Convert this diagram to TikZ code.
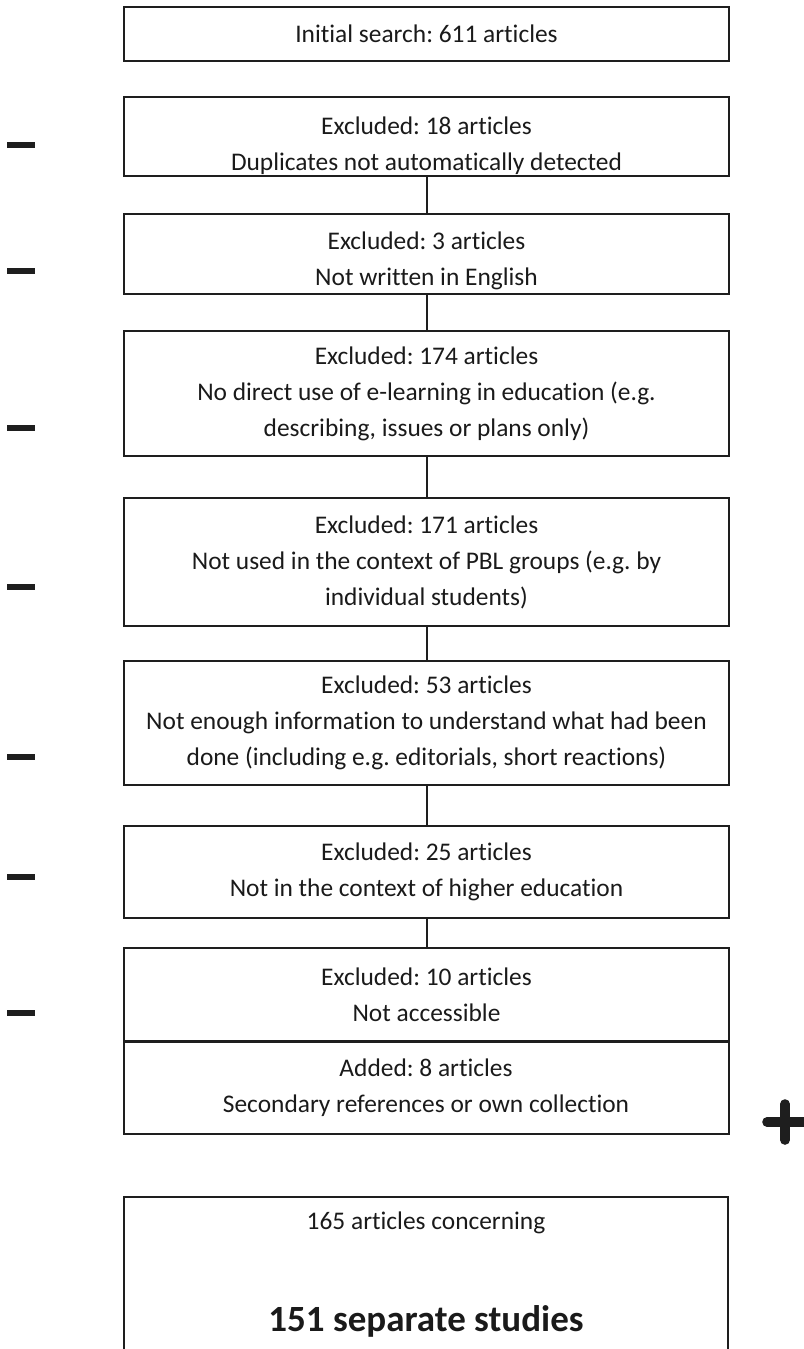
\documentclass[tikz,border=0pt]{standalone}
\usepackage{fontspec}
\setmainfont{Carlito}[Ligatures=NoCommon]
\usepackage{xcolor}
\definecolor{boxline}{HTML}{1E1E1E}
\definecolor{boxtext}{HTML}{1A1A1A}
\newcommand{\toppad}[1]{\rule{0pt}{#1}}
\tikzset{
  every picture/.style={line join=miter},
  stagebox/.style={draw=boxline, line width=1pt, minimum width=302.5pt, inner sep=0pt,
    align=center, text=boxtext, font=\fontsize{12.7pt}{18pt}\selectfont},
  stagelbl/.style={text=boxtext, inner sep=0pt, font=\fontsize{12.7pt}{18pt}\selectfont},
  biglbl/.style={text=boxtext, inner sep=0pt, font=\bfseries\fontsize{18.5pt}{22pt}\selectfont},
  link/.style={boxline, line width=1pt},
  minusbar/.style={boxline, line width=2.6pt, line cap=butt},
  plusbar/.style={boxline, line width=4.8pt, line cap=round},
}

\begin{document}
\frenchspacing
\begin{tikzpicture}[x=0.5pt, y=-0.5pt]
\useasboundingbox (0,0) rectangle (803,1349);
% selection stages
\node[stagebox, minimum height=27pt] (init) at (426.5,34) {Initial search: 611 articles};
\node[stagebox, minimum height=39.5pt] (dup) at (426.5,136.5) {\toppad{18pt}Excluded: 18 articles\\Duplicates not automatically detected};
\node[stagebox, minimum height=40pt] (lang) at (426.5,254) {\toppad{16pt}Excluded: 3 articles\\Not written in English};
\node[stagebox, minimum height=62.5pt] (elearn) at (426.5,393.5) {Excluded: 174 articles\\No direct use of e-learning in education (e.g.\\describing, issues or plans only)};
\node[stagebox, minimum height=64pt] (pbl) at (426.5,562) {Excluded: 171 articles\\Not used in the context of PBL groups (e.g. by\\individual students)};
\node[stagebox, minimum height=62pt] (info) at (426.5,723) {Excluded: 53 articles\\Not enough information to understand what had been\\done (including e.g. editorials, short reactions)};
\node[stagebox, minimum height=46pt] (higher) at (426.5,872) {Excluded: 25 articles\\Not in the context of higher education};
\node[stagebox, minimum height=46.5pt] (access) at (426.5,994.5) {Excluded: 10 articles\\Not accessible};
\node[stagebox, minimum height=46pt] (added) at (426,1088) {Added: 8 articles\\Secondary references or own collection};
% result box, runs off the page
\node[stagebox, minimum width=302pt, minimum height=92pt] (final) at (425.5,1289) {};
\node[stagelbl] (finalcount) at (426,1223) {165 articles concerning};
\node[biglbl] (finalstudies) at (426,1321) {151 separate studies};
% connectors
\draw[link] (dup) -- (lang);
\draw[link] (lang) -- (elearn);
\draw[link] (elearn) -- (pbl);
\draw[link] (pbl) -- (info);
\draw[link] (info) -- (higher);
\draw[link] (higher) -- (access);
% minus and plus marks
\foreach \y in {145,271,428,587,757,877,1013}
  \draw[minusbar] (7,\y) -- (35,\y);
\draw[plusbar] (767,1122) -- (806,1122);
\draw[plusbar] (785,1104) -- (785,1140);
\end{tikzpicture}
\end{document}
